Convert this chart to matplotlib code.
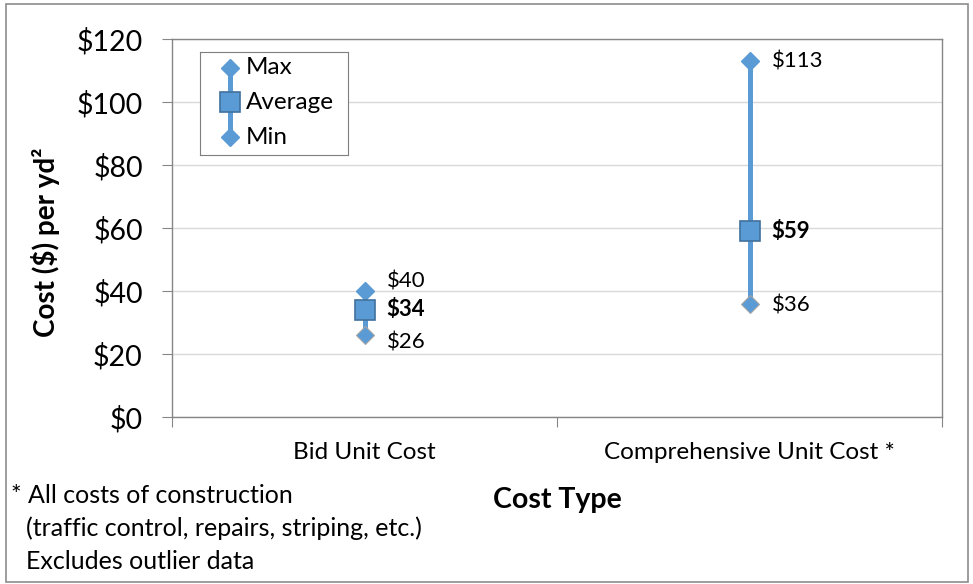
import matplotlib.pyplot as plt
from matplotlib.patches import Rectangle

plt.rcParams['font.family'] = ['Lato', 'DejaVu Sans']

categories = ['Bid Unit Cost', 'Comprehensive Unit Cost *']
cost_max = [40, 113]
cost_avg = [34, 59]
cost_min = [26, 36]
yticks = [0, 20, 40, 60, 80, 100, 120]

blue = '#5B9BD5'
dark = '#41719C'
grid_c = '#D9D9D9'
spine_c = '#868686'

fig = plt.figure(figsize=(9.73, 5.84), dpi=100)
ax = fig.add_axes([0.1768, 0.286, 0.7914, 0.647])

# vertical nudges (points) so that close labels don't collide
hi_dy = [7, 0]
lo_dy = [-5, -1]

xs = [i + 0.5 for i in range(len(categories))]
for i, (x, hi, av, lo) in enumerate(zip(xs, cost_max, cost_avg, cost_min)):
    ax.plot([x, x], [lo, hi], color=blue, lw=3.6, zorder=3)
    ax.plot(x, hi, 'D', ms=9.5, color=blue, mec=blue, zorder=4)
    ax.plot(x, lo, 'D', ms=9.5, color=blue, mec='#A5A5A5', mew=0.8, zorder=4)
    ax.plot(x, av, 's', ms=14.5, color=blue, mec=dark, mew=1.2, zorder=5)
    ax.annotate('\\$%d' % hi, (x, hi), xytext=(16, hi_dy[i]), textcoords='offset points',
                va='center', fontsize=16)
    ax.annotate('\\$%d' % av, (x, av), xytext=(16, 0), textcoords='offset points',
                va='center', fontsize=16, fontweight='bold')
    ax.annotate('\\$%d' % lo, (x, lo), xytext=(16, lo_dy[i]), textcoords='offset points',
                va='center', fontsize=16)

ax.set_xlim(0, len(categories))
ax.set_ylim(0, 120)
ax.set_yticks(yticks)
ax.set_yticklabels(['\\$%d' % v for v in yticks], fontsize=20.5)
ax.set_xticks(range(len(categories) + 1))
ax.set_xticklabels([])
ax.set_xticks(xs, minor=True)
ax.set_xticklabels(categories, minor=True, fontsize=17.5)
ax.tick_params(axis='x', which='minor', length=0, pad=18)
ax.tick_params(axis='x', which='major', length=7, color=spine_c, direction='out')
ax.tick_params(axis='y', length=7, color=spine_c, direction='out', pad=14)
ax.grid(axis='y', color=grid_c, lw=1)
ax.set_axisbelow(True)
for s in ax.spines.values():
    s.set_color(spine_c)
    s.set_linewidth(1)

fig.text(0.047, 0.585, 'Cost (\\$) per yd²', fontsize=20, fontweight='bold',
         rotation=90, ha='center', va='center')
fig.text(0.5725, 0.144, 'Cost Type', fontsize=20.5, fontweight='bold', ha='center', va='center')

# footnote
fig.text(0.011, 0.152, '* All costs of construction', fontsize=18, va='center')
fig.text(0.027, 0.095, '(traffic control, repairs, striping, etc.)', fontsize=18, va='center')
fig.text(0.027, 0.038, 'Excludes outlier data', fontsize=18, va='center')

# legend box
lg = fig.add_axes([0.2055, 0.735, 0.152, 0.176])
lg.set_xlim(0, 1)
lg.set_ylim(-0.5, 2.45)
lg.plot([0.2, 0.2], [0, 2], color=blue, lw=3.6)
lg.plot(0.2, 2, 'D', ms=9.5, color=blue)
lg.plot(0.2, 0, 'D', ms=9.5, color=blue)
lg.plot(0.2, 1, 's', ms=14.5, color=blue, mec=dark, mew=1.2)
for yy, t in zip([2, 1, 0], ['Max', 'Average', 'Min']):
    lg.text(0.31, yy, t, fontsize=17.5, va='center')
lg.set_xticks([])
lg.set_yticks([])
for s in lg.spines.values():
    s.set_color('#7F7F7F')

# outer border
fig.patches.append(Rectangle((0.006, 0.004), 0.989, 0.99, transform=fig.transFigure,
                             fill=False, ec='#8C8C8C', lw=1.2))

fig.savefig('out.png', dpi=100)
